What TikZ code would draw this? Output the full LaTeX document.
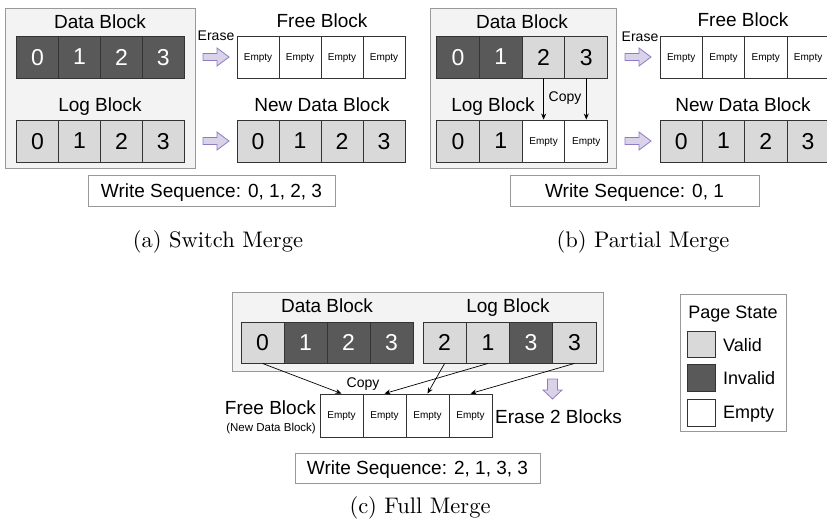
\documentclass[tikz,border=0pt]{standalone}
\usepackage{fontspec}
\newfontfamily\arial{Liberation Sans}
\newfontfamily\capfont{lmroman10-regular}[Extension=.otf]
\usetikzlibrary{arrows.meta}
\definecolor{dkgray}{HTML}{595959}
\definecolor{ltgray}{HTML}{D9D9D9}
\definecolor{boxbg}{HTML}{F3F3F3}
\definecolor{boxline}{HTML}{999999}
\definecolor{arrfill}{HTML}{D9D2E9}
\definecolor{arrline}{HTML}{8E7CC3}
\definecolor{celline}{HTML}{333333}
\tikzset{
  cell/.style={draw=celline, line width=0.9pt, minimum width=#1, minimum height=42, inner sep=0pt,
    text depth=0pt, font=\arial\fontsize{23}{23}\selectfont},
  cell/.default=42,
  valid/.style={fill=ltgray},
  invalid/.style={fill=dkgray, text=white},
  emptycell/.style={fill=white, font=\arial\fontsize{10}{10}\selectfont},
  panel/.style={draw=boxline, fill=boxbg, line width=0.8pt, inner sep=0pt},
  seqbox/.style={draw=boxline, fill=white, line width=0.8pt, inner sep=0pt, text depth=0pt,
    font=\arial\fontsize{19}{19}\selectfont},
  lbl/.style={font=\arial\fontsize{19}{19}\selectfont, inner sep=0pt, text depth=0pt},
  smalllbl/.style={font=\arial\fontsize{14}{14}\selectfont, inner sep=0pt, text depth=0pt},
  leglbl/.style={font=\arial\fontsize{18}{18}\selectfont, inner sep=0pt, text depth=0pt},
  swatch/.style={draw=celline, line width=0.8pt, minimum width=28, inner sep=0pt},
  caption/.style={font=\capfont\fontsize{22.5}{22.5}\selectfont, inner sep=0pt},
  copyarrow/.style={draw=black, line width=0.7pt, -{Stealth[length=6pt,width=5pt]}},
  blockarrow/.style={draw=arrline, fill=arrfill, line width=0.8pt, line join=miter},
  rarrow/.pic={\path[blockarrow] (-13,-3.5) -- (1,-3.5) -- (1,-9) -- (13,0) -- (1,9) -- (1,3.5) -- (-13,3.5) -- cycle;},
  darrow/.pic={\path[blockarrow] (-5,-11) -- (5,-11) -- (5,0) -- (9.5,0) -- (0,9) -- (-9.5,0) -- (-5,0) -- cycle;},
}
\begin{document}
\begin{tikzpicture}[x=1pt, y=-1pt]
\useasboundingbox (0,0) rectangle (827,525);

% ---------------- (a) Switch Merge ----------------
\node[panel, minimum width=190, minimum height=160] (a-box) at (100,88) {};
\node[lbl] (a-dl) at (100,22) {Data Block};
\node[cell, invalid] (a-d1) at (37.6,57) {0};
\node[cell, invalid] (a-d2) at (79.5,57) {1};
\node[cell, invalid] (a-d3) at (121.4,57) {2};
\node[cell, invalid] (a-d4) at (163.3,57) {3};
\node[lbl] (a-ll) at (100,105) {Log Block};
\node[cell, valid] (a-l1) at (37.6,141) {0};
\node[cell, valid] (a-l2) at (79.5,141) {1};
\node[cell, valid] (a-l3) at (121.4,141) {2};
\node[cell, valid] (a-l4) at (163.3,141) {3};
\pic at (216,57) {rarrow};
\pic at (216,141) {rarrow};
\node[smalllbl] (a-erase) at (216,36) {Erase};
\node[lbl] (a-fl) at (322,21) {Free Block};
\node[cell, emptycell] (a-f1) at (258,57) {Empty};
\node[cell, emptycell] (a-f2) at (300,57) {Empty};
\node[cell, emptycell] (a-f3) at (342,57) {Empty};
\node[cell, emptycell] (a-f4) at (384,57) {Empty};
\node[lbl] (a-nl) at (322,105) {New Data Block};
\node[cell, valid] (a-n1) at (258,141) {0};
\node[cell, valid] (a-n2) at (300,141) {1};
\node[cell, valid] (a-n3) at (342,141) {2};
\node[cell, valid] (a-n4) at (384,141) {3};
\node[seqbox, minimum width=247, minimum height=31] (a-seq) at (211.5,190.5) {Write Sequence: 0, 1, 2, 3};
\node[caption] (a-cap) at (218,242) {(a) Switch Merge};

% ---------------- (b) Partial Merge ----------------
\node[panel, minimum width=186, minimum height=160] (b-box) at (523,88) {};
\node[lbl] (b-dl) at (522,22) {Data Block};
\node[cell=42.75, invalid] (b-d1) at (458.1,57) {0};
\node[cell=42.75, invalid] (b-d2) at (500.8,57) {1};
\node[cell=42.75, valid] (b-d3) at (543.6,57) {2};
\node[cell=42.75, valid] (b-d4) at (586.3,57) {3};
\node[lbl] (b-ll) at (493,105) {Log Block};
\node[cell=42.75, valid] (b-l1) at (458.1,141) {0};
\node[cell=42.75, valid] (b-l2) at (500.8,141) {1};
\node[cell=42.75, emptycell] (b-l3) at (543.6,141) {Empty};
\node[cell=42.75, emptycell] (b-l4) at (586.3,141) {Empty};
\draw[copyarrow] (b-d3.south) -- (b-l3.north);
\draw[copyarrow] (b-d4.south) -- (b-l4.north);
\node[smalllbl] (b-copy) at (565,97) {Copy};
\pic at (638,57) {rarrow};
\pic at (638,141) {rarrow};
\node[smalllbl] (b-erase) at (640,37) {Erase};
\node[lbl] (b-fl) at (743,20) {Free Block};
\node[cell=42.3, emptycell] (b-f1) at (681.2,57) {Empty};
\node[cell=42.3, emptycell] (b-f2) at (723.5,57) {Empty};
\node[cell=42.3, emptycell] (b-f3) at (765.8,57) {Empty};
\node[cell=42.3, emptycell] (b-f4) at (808.1,57) {Empty};
\node[lbl] (b-nl) at (743,105) {New Data Block};
\node[cell=42.3, valid] (b-n1) at (681.2,141) {0};
\node[cell=42.3, valid] (b-n2) at (723.5,141) {1};
\node[cell=42.3, valid] (b-n3) at (765.8,141) {2};
\node[cell=42.3, valid] (b-n4) at (808.1,141) {3};
\node[seqbox, minimum width=249, minimum height=31] (b-seq) at (634.5,190.5) {Write Sequence: 0, 1};
\node[caption] (b-cap) at (643,242) {(b) Partial Merge};

% ---------------- (c) Full Merge ----------------
\node[panel, minimum width=371, minimum height=79] (c-box) at (417.5,331.5) {};
\node[lbl] (c-dl) at (327,306) {Data Block};
\node[lbl] (c-ll) at (508,306) {Log Block};
\node[cell=43, minimum height=41, valid] (c-d1) at (262.5,342.5) {0};
\node[cell=43, minimum height=41, invalid] (c-d2) at (305.5,342.5) {1};
\node[cell=43, minimum height=41, invalid] (c-d3) at (348.5,342.5) {2};
\node[cell=43, minimum height=41, invalid] (c-d4) at (391.5,342.5) {3};
\node[cell=43.25, minimum height=41, valid] (c-l1) at (444.6,342.5) {2};
\node[cell=43.25, minimum height=41, valid] (c-l2) at (487.9,342.5) {1};
\node[cell=43.25, minimum height=41, invalid] (c-l3) at (531.1,342.5) {3};
\node[cell=43.25, minimum height=41, valid] (c-l4) at (574.4,342.5) {3};
\node[cell=43, minimum height=43, emptycell] (c-f1) at (341.5,415.5) {Empty};
\node[cell=43, minimum height=43, emptycell] (c-f2) at (384.5,415.5) {Empty};
\node[cell=43, minimum height=43, emptycell] (c-f3) at (427.5,415.5) {Empty};
\node[cell=43, minimum height=43, emptycell] (c-f4) at (470.5,415.5) {Empty};
\draw[copyarrow] (c-d1.south) -- (c-f1.north);
\draw[copyarrow] (c-l2.south) -- (c-f2.north);
\draw[copyarrow] (c-l1.south) -- (c-f3.north);
\draw[copyarrow] (c-l4.south) -- (c-f4.north);
\node[smalllbl] (c-copy) at (363,383) {Copy};
\node[lbl, anchor=east] (c-fl) at (316,408) {Free Block};
\node[anchor=east, inner sep=0pt, text depth=0pt, font=\arial\fontsize{11.5}{11.5}\selectfont] (c-nl) at (316,427) {(New Data Block)};
\pic at (552.5,390) {darrow};
\node[lbl, anchor=west] (c-erase) at (495,417) {Erase 2 Blocks};
\node[seqbox, minimum width=245, minimum height=30] (c-seq) at (417.5,468) {Write Sequence: 2, 1, 3, 3};
\node[caption] (c-cap) at (420,508) {(c) Full Merge};

% ---------------- Legend ----------------
\node[draw=boxline, fill=white, line width=0.8pt, minimum width=106, minimum height=137, inner sep=0pt] (leg) at (733,362.5) {};
\node[leglbl] (leg-t) at (733,312) {Page State};
\node[swatch, fill=ltgray, minimum height=26] (leg-v) at (701,344) {};
\node[swatch, fill=dkgray, minimum height=27] (leg-i) at (701,378) {};
\node[swatch, fill=white, minimum height=27] (leg-e) at (701,412.5) {};
\node[leglbl, anchor=west] (leg-vt) at (723,345) {Valid};
\node[leglbl, anchor=west] (leg-it) at (723,378) {Invalid};
\node[leglbl, anchor=west] (leg-et) at (723,412) {Empty};
\end{tikzpicture}
\end{document}
